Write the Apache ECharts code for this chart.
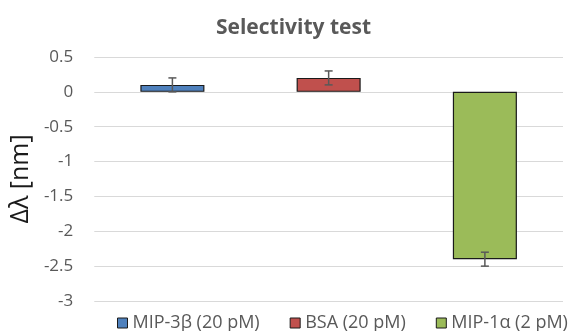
<!DOCTYPE html>
<html><head><meta charset="utf-8">
<script src="https://cdn.jsdelivr.net/npm/echarts@6/dist/echarts.min.js"></script>
<style>html,body{margin:0;padding:0;background:#fff}#c{width:587px;height:331px}</style>
</head><body><div id="c"></div>
<script>
var categories = ['MIP-3β (20 pM)', 'BSA (20 pM)', 'MIP-1α (2 pM)'];
var values = [0.1, 0.2, -2.4];
var errors = [0.1, 0.1, 0.1];
var colors = ['#4F81BD', '#C0504D', '#9BBB59'];
var yTicks = { min: -3, max: 0.5, interval: 0.5 };

var chart = echarts.init(document.getElementById('c'));
var font = '"Open Sans", "Liberation Sans", sans-serif';
var series = categories.map(function (name, i) {
  return {
    name: name, type: 'bar', stack: 'all', barWidth: '41%',
    itemStyle: { color: colors[i], borderColor: '#1a1a1a', borderWidth: 1.2 },
    data: values.map(function (v, j) { return j === i ? v : '-'; })
  };
});
series.push({
  type: 'custom', name: 'err', silent: true, z: 10,
  data: values.map(function (v, i) { return [i, v - errors[i], v + errors[i]]; }),
  renderItem: function (params, api) {
    var lo = api.coord([api.value(0), api.value(1)]);
    var hi = api.coord([api.value(0), api.value(2)]);
    var w = 4;
    var st = { stroke: '#595959', lineWidth: 1.5 };
    return { type: 'group', children: [
      { type: 'line', shape: { x1: lo[0], y1: lo[1], x2: hi[0], y2: hi[1] }, style: st },
      { type: 'line', shape: { x1: lo[0] - w, y1: lo[1], x2: lo[0] + w, y2: lo[1] }, style: st },
      { type: 'line', shape: { x1: hi[0] - w, y1: hi[1], x2: hi[0] + w, y2: hi[1] }, style: st }
    ]};
  }
});
chart.setOption({
  animation: false,
  title: { text: 'Selectivity test', left: 'center', top: 18, padding: 0,
    textStyle: { fontFamily: font, fontSize: 21, fontWeight: 'bold', color: '#595959' } },
  grid: { left: 92, right: 24, top: 57, bottom: 30 },
  legend: {
    data: categories, top: 314, left: 117, padding: 0, icon: 'rect',
    itemWidth: 10, itemHeight: 10, itemGap: 30,
    textStyle: { fontFamily: font, fontSize: 18, color: '#595959', padding: [0, 0, 0, 0] },
    itemStyle: { borderColor: '#1a1a1a', borderWidth: 1 }
  },
  xAxis: { type: 'category', data: categories, axisLine: { show: false }, axisTick: { show: false },
    axisLabel: { show: false } },
  yAxis: { type: 'value', min: yTicks.min, max: yTicks.max, interval: yTicks.interval,
    name: 'Δλ [nm]', nameLocation: 'middle', nameGap: 58,
    nameTextStyle: { fontFamily: font, fontSize: 25, color: '#1a1a1a' },
    axisLabel: { fontFamily: font, fontSize: 17, color: '#595959', margin: 21 },
    splitLine: { lineStyle: { color: '#d9d9d9', width: 1 } } },
  series: series
});
</script></body></html>
